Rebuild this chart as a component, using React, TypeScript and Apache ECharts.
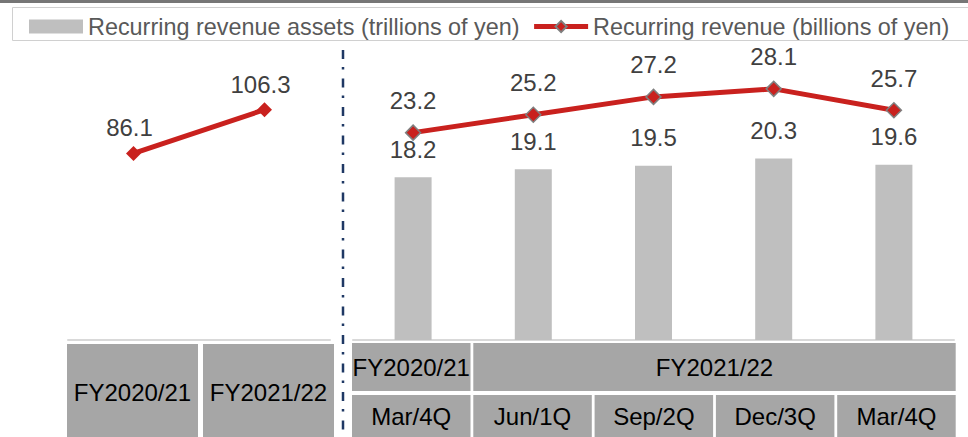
import React, { useEffect, useRef } from 'react';
import * as echarts from 'echarts';

// ---- data ----
const annualCategories = ['FY2020/21', 'FY2021/22'];
const annualRevenue = [86.1, 106.3];
const quarterCategories = ['Mar/4Q', 'Jun/1Q', 'Sep/2Q', 'Dec/3Q', 'Mar/4Q'];
const quarterAssets = [18.2, 19.1, 19.5, 20.3, 19.6];
const quarterRevenue = [23.2, 25.2, 27.2, 28.1, 25.7];
const fiscalYearGroups = ['FY2020/21', 'FY2021/22'];
const fiscalYearSpans = [1, 4];
const assetsName = 'Recurring revenue assets (trillions of yen)';
const revenueName = 'Recurring revenue (billions of yen)';

const FONT = '"Liberation Sans", Arial, Helvetica, sans-serif';
const RED = '#c9211e';
const CELL = '#a6a6a6';

function buildTable(): any[] {
  const els: any[] = [];
  const textStyle = (text: string) => ({ text, fill: '#000', font: `24px ${FONT}`, align: 'center', verticalAlign: 'middle' });
  // left annual cells
  const leftX0 = 67;
  const leftStep = 136;
  const leftW = 131;
  annualCategories.forEach((c, i) => {
    const x = leftX0 + i * leftStep;
    els.push({ type: 'rect', shape: { x, y: 344, width: leftW, height: 100 }, style: { fill: CELL } });
    els.push({ type: 'text', x: x + leftW / 2, y: 392, style: textStyle(c) });
  });
  // right quarter cells
  const rX0 = 352;
  const rStep = 121.3;
  const rW = 118.5;
  quarterCategories.forEach((c, i) => {
    const x = rX0 + i * rStep;
    els.push({ type: 'rect', shape: { x, y: 395, width: rW, height: 50 }, style: { fill: CELL } });
    els.push({ type: 'text', x: x + rW / 2, y: 416, style: textStyle(c) });
  });
  // fiscal year header row
  let start = 0;
  fiscalYearGroups.forEach((g, gi) => {
    const span = fiscalYearSpans[gi];
    const x = rX0 + start * rStep;
    const w = (span - 1) * rStep + rW;
    els.push({ type: 'rect', shape: { x, y: 343, width: w, height: 48 }, style: { fill: CELL } });
    els.push({ type: 'text', x: x + w / 2, y: 367, style: textStyle(g) });
    start += span;
  });
  return els;
}

export default function App() {
  const ref = useRef<HTMLDivElement>(null);
  useEffect(() => {
    document.body.style.margin = '0';
    if (!ref.current) return;
    const chart = echarts.init(ref.current, undefined, { renderer: 'svg' });
    const axisLine = { show: true, lineStyle: { color: '#d9d9d9', width: 2 } };
    const option: any = {
      animation: false,
      backgroundColor: '#ffffff',
      textStyle: { fontFamily: FONT },
      legend: {
        data: [{ name: assetsName, icon: 'rect' }, { name: revenueName }],
        left: 29,
        top: 15,
        width: 1000,
        padding: 0,
        itemWidth: 54,
        itemHeight: 14,
        itemGap: 12,
        lineStyle: { width: 5 },
        textStyle: { fontSize: 23.4, color: '#595959', fontFamily: FONT },
      },
      grid: [
        { left: 68, width: 262, top: 54, height: 286 },
        { left: 353, width: 601, top: 54, height: 286 },
      ],
      xAxis: [
        { type: 'category', gridIndex: 0, data: annualCategories, axisLine, axisTick: { show: false }, axisLabel: { show: false } },
        { type: 'category', gridIndex: 1, data: quarterCategories, axisLine, axisTick: { show: false }, axisLabel: { show: false } },
      ],
      yAxis: [
        { type: 'value', gridIndex: 0, min: 0, max: 132, show: false, splitLine: { show: false } },
        { type: 'value', gridIndex: 1, min: 0, max: 32, show: false, splitLine: { show: false } },
      ],
      series: [
        {
          name: assetsName, type: 'bar', xAxisIndex: 1, yAxisIndex: 1,
          data: quarterAssets, barWidth: 37,
          itemStyle: { color: '#bfbfbf' },
          label: { show: true, position: 'top', distance: 16, fontSize: 24, color: '#404040', fontFamily: FONT },
        },
        {
          name: revenueName, type: 'line', xAxisIndex: 1, yAxisIndex: 1,
          data: quarterRevenue, symbol: 'diamond', symbolSize: 15,
          lineStyle: { color: RED, width: 5 },
          itemStyle: { color: RED, borderColor: '#7f7f7f', borderWidth: 1.5 },
          label: { show: true, position: 'top', distance: 12, fontSize: 24, color: '#404040', fontFamily: FONT },
          z: 3,
        },
        {
          name: revenueName, type: 'line', xAxisIndex: 0, yAxisIndex: 0,
          data: annualRevenue, symbol: 'diamond', symbolSize: 15,
          lineStyle: { color: RED, width: 5 },
          itemStyle: { color: RED },
          label: { show: true, position: 'top', distance: 6, offset: [-4, 0], fontSize: 24, color: '#404040', fontFamily: FONT },
          z: 3,
        },
      ],
      graphic: [
        { type: 'rect', z: -1, shape: { x: 0, y: 0, width: 968, height: 3 }, style: { fill: '#767676' } },
        { type: 'rect', z: -1, shape: { x: 12.5, y: 7.5, width: 970, height: 33 }, style: { fill: 'none', stroke: '#d0d0d0', lineWidth: 1 } },
        { type: 'line', shape: { x1: 343, y1: 50, x2: 343, y2: 437 }, style: { stroke: '#1f3864', lineWidth: 2.5, lineDash: [9, 8, 2.5, 9] } },
        ...buildTable(),
      ],
    };
    chart.setOption(option);
    return () => chart.dispose();
  }, []);
  return <div ref={ref} style={{ position: 'absolute', left: 0, top: 0, width: 968, height: 437 }} />;
}
